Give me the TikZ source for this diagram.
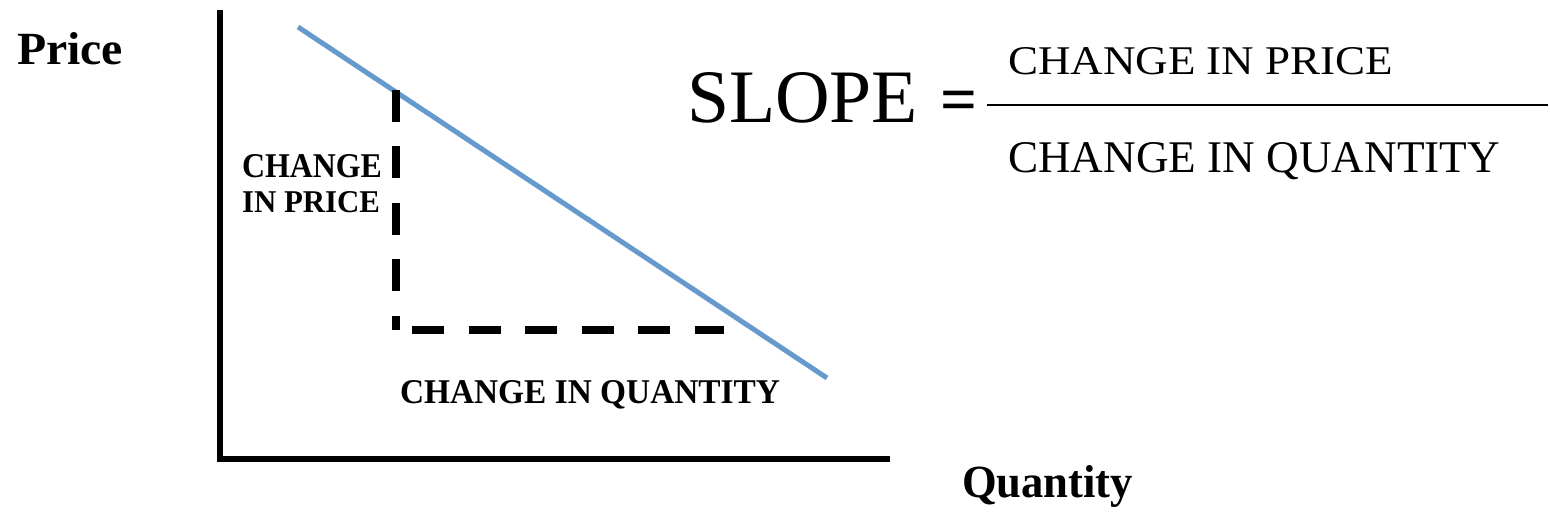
\documentclass[tikz,border=0pt]{standalone}
\usepackage{graphicx}
\IfFileExists{tgpagella.sty}{\usepackage[T1]{fontenc}\usepackage{tgpagella}}{\usepackage{fontspec}\setmainfont{Liberation Serif}}
\definecolor{demandblue}{RGB}{102,153,204}
\tikzset{
  lbl/.style={inner sep=0pt, outer sep=0pt, anchor=base west},
  axisline/.style={line width=6pt, line join=miter},
  dashln/.style={line width=8pt, dash pattern=on 32pt off 24.5pt},
  demand/.style={line width=5pt, draw=demandblue},
  fracline/.style={line width=2pt}
}
\begin{document}
\begin{tikzpicture}[x=1pt,y=-1pt]
\useasboundingbox (0,0) rectangle (1550,518);
% axes
\coordinate (ytop) at (219.5,10);
\coordinate (origin) at (219.5,458.5);
\coordinate (xend) at (890,458.5);
\draw[axisline] (ytop) -- (origin) -- (xend);
% demand line
\coordinate (dstart) at (298,27);
\coordinate (dend) at (827,378);
\draw[demand] (dstart) -- (dend);
% dashed legs
\coordinate (vtop) at (395.5,90);
\coordinate (corner) at (395.5,330);
\coordinate (hstart) at (412,330);
\coordinate (hend) at (724,330);
\draw[dashln] (vtop) -- (corner);
\draw[dashln, line width=7.5pt] (hstart) -- (hend);
% labels
\node[lbl] (price) at (17,65) {\resizebox{106pt}{32pt}{\bfseries Price}};
\node[lbl] (qty) at (962,497) {\resizebox{171pt}{32pt}{\bfseries Quantity}};
\node[lbl] (chg1) at (242,178) {\resizebox{140pt}{23pt}{\bfseries CHANGE}};
\node[lbl] (chg2) at (242,213) {\resizebox{138pt}{21pt}{\bfseries IN PRICE}};
\node[lbl] (chgq) at (400,403) {\resizebox{380pt}{23pt}{\bfseries CHANGE IN QUANTITY}};
% formula
\node[lbl] (slope) at (687,123) {\resizebox{231pt}{50pt}{SLOPE}};
\node[lbl] (eq) at (940,121.5) {\resizebox{37pt}{!}{\bfseries =}};
\coordinate (fl) at (987,105.5);
\coordinate (fr) at (1548,105.5);
\draw[fracline] (fl) -- (fr);
\node[lbl] (num) at (1008,75) {\resizebox{385pt}{27pt}{CHANGE IN PRICE}};
\node[lbl] (den) at (1008,173) {\resizebox{492pt}{30pt}{CHANGE IN QUANTITY}};
\end{tikzpicture}
\end{document}
